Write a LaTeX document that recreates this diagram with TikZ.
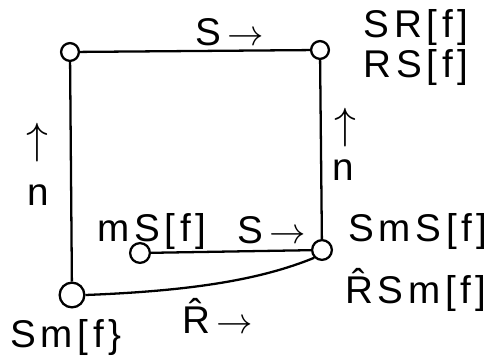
\documentclass[tikz,border=0pt]{standalone}
\usepackage{fontspec}
\setmainfont{Liberation Sans}[LetterSpace=12]
\begin{document}
\begin{tikzpicture}[x=0.02cm,y=-0.02cm,
  dot/.style={circle,draw,line width=1.3pt,inner sep=0pt,minimum size=#1},
  edge/.style={line width=1.3pt},
  lab/.style={font=\fontsize{22}{26}\selectfont,inner sep=0pt},
  arr/.style={font=\fontsize{26}{30}\selectfont,inner sep=0pt}]
\useasboundingbox (0,0) rectangle (494,364);
\node[dot=18pt*0.5625] (tl) at (70,52) {};
\node[dot=18pt*0.5625] (tr) at (320,50) {};
\node[dot=20pt*0.5625] (rm) at (322,250) {};
\node[dot=20pt*0.5625] (sm) at (140,253) {};
\node[dot=25pt*0.5625] (bl) at (72,295) {};
\draw[edge] (tl) -- (tr);
\draw[edge] (tl) -- (bl);
\draw[edge] (tr) -- (rm);
\draw[edge] (sm) -- (rm);
\draw[edge] (bl.east) .. controls (190,291) and (260,280) .. (rm.south west);
\node[lab] (t1) at (230,32) {S\,$\rightarrow$};
\node[lab] (t2) at (416,28) {SR[f]};
\node[lab] (t3) at (416,68) {RS[f]};
\node[arr] (t4) at (37,143) {$\uparrow$};
\node[lab] (t5) at (38,195) {n};
\node[arr] (t6) at (345,128) {$\uparrow$};
\node[lab] (t7) at (343,170) {n};
\node[lab] (t8) at (152,232) {mS[f]};
\node[lab] (t9) at (272,230) {S\,$\rightarrow$};
\node[lab] (t10) at (418,232) {SmS[f]};
\node[lab] (t11) at (416,290) {\^{R}Sm[f]};
\node[lab] (t12) at (218,316) {\^{R}\,$\rightarrow$};
\node[lab] (t13) at (66,338) {Sm[f\}};
\end{tikzpicture}
\end{document}
